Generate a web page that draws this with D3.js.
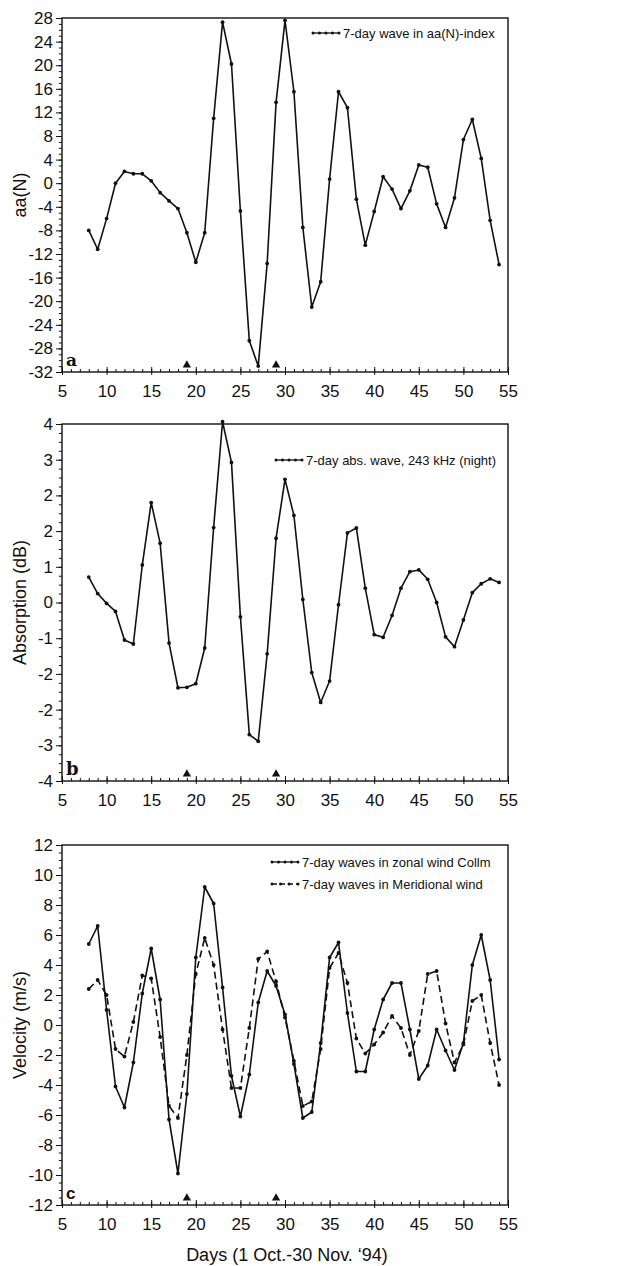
<!DOCTYPE html>
<html lang="en">
<head>
<meta charset="utf-8" />
<title>7-day waves</title>
<script src="https://d3js.org/d3.v7.min.js"></script>
<style>
  body { margin: 0; background: #fff; }
  svg text { font-family: "Liberation Sans", Arial, sans-serif; fill: #111; }
  .tick line { stroke: #111; }
</style>
</head>
<body>
<script>
// days of the record (1 Oct = day 1)
var days = [8, 9, 10, 11, 12, 13, 14, 15, 16, 17, 18, 19, 20, 21, 22, 23, 24, 25, 26, 27, 28, 29, 30, 31,
  32, 33, 34, 35, 36, 37, 38, 39, 40, 41, 42, 43, 44, 45, 46, 47, 48, 49, 50, 51, 52, 53, 54];

// panel a: 7-day wave in aa(N)-index
var aaWave = [-8, -11.2, -6, 0, 2, 1.6, 1.6, 0.4, -1.6, -3, -4.3, -8.4, -13.4, -8.4, 11, 27.3, 20.2, -4.7,
  -26.7, -31, -13.6, 13.7, 27.6, 15.5, -7.5, -21, -16.7, 0.7, 15.5, 12.8, -2.7, -10.5, -4.8, 1.1, -1, -4.3,
  -1.3, 3.1, 2.7, -3.5, -7.5, -2.5, 7.4, 10.8, 4.2, -6.3, -13.8];

// panel b: 7-day absorption wave, 243 kHz (night)
var absWave = [0.57, 0.2, -0.02, -0.2, -0.84, -0.93, 0.84, 2.24, 1.33, -0.91, -1.91, -1.9, -1.82, -1.02, 1.68,
  4.05, 3.14, -0.32, -2.96, -3.11, -1.15, 1.44, 2.76, 1.95, 0.07, -1.57, -2.24, -1.76, -0.05, 1.56, 1.67, 0.32,
  -0.72, -0.78, -0.29, 0.32, 0.69, 0.73, 0.52, 0.0, -0.77, -0.99, -0.39, 0.22, 0.42, 0.53, 0.45];

// panel c: zonal wind (solid) and meridional wind (dashed)
var zonalWave = [5.4, 6.6, 1.0, -4.1, -5.5, -2.5, 2.1, 5.1, 1.7, -6.3, -9.9, -4.6, 4.5, 9.2, 8.1, 2.5, -3.4,
  -6.1, -3.3, 1.5, 3.6, 2.6, 0.7, -2.6, -6.2, -5.8, -1.2, 4.5, 5.5, 0.8, -3.1, -3.1, -0.3, 1.7, 2.8, 2.8, -0.3,
  -3.6, -2.7, -0.3, -1.7, -3.0, -1.2, 4.0, 6.0, 3.0, -2.3];
var meridWave = [2.4, 3.0, 2.0, -1.6, -2.1, 0.2, 3.3, 3.1, -0.8, -5.4, -6.2, -2.0, 3.4, 5.8, 4.0, -0.3, -4.2,
  -4.2, -0.2, 4.4, 4.9, 2.9, 0.5, -2.4, -5.4, -5.1, -1.6, 3.8, 4.8, 2.8, -0.9, -1.9, -1.3, -0.5, 0.6, -0.2, -2.0,
  -0.4, 3.4, 3.6, 0.1, -2.5, -1.3, 1.6, 2.0, -1.2, -4.0];

// event markers (triangles on the axis)
var markerDays = [19, 29];

// axis ticks and labels
var xTicks = [5, 10, 15, 20, 25, 30, 35, 40, 45, 50, 55];
var aaTicks = [28, 24, 20, 16, 12, 8, 4, 0, -4, -8, -12, -16, -20, -24, -28, -32];
var aaTickLabels = ["28", "24", "20", "16", "12", "8", "4", "0", "-4", "-8", "-12", "-16", "-20", "-24", "-28", "-32"];
var absTicks = [4, 3.2, 2.4, 1.6, 0.8, 0, -0.8, -1.6, -2.4, -3.2, -4];
var absTickLabels = ["4", "3", "2", "2", "1", "0", "-1", "-2", "-2", "-3", "-4"];
var velTicks = [12, 10, 8, 6, 4, 2, 0, -2, -4, -6, -8, -10, -12];
var velTickLabels = ["12", "10", "8", "6", "4", "2", "0", "-2", "-4", "-6", "-8", "-10", "-12"];

var w = 618, h = 1266;
var left = 62, right = 508;

var svg = d3.select("body").append("svg")
  .attr("width", w)
  .attr("height", h);

var x = d3.scaleLinear().domain([5, 55]).range([left, right]);

var panels = [
  { top: 18, bottom: 372, domain: [-32, 28], ticks: aaTicks, labels: aaTickLabels, minor: 1,
    title: "aa(N)", letter: "a", letterFont: "'DejaVu Serif', serif", letterSize: 17,
    series: [{ values: aaWave, dash: null }],
    legend: [{ text: "7-day wave in aa(N)-index", dash: null, x: 313, y: 33 }] },
  { top: 424, bottom: 781, domain: [-4, 4], ticks: absTicks, labels: absTickLabels, minor: 0.2,
    title: "Absorption (dB)", letter: "b", letterFont: "'DejaVu Serif', serif", letterSize: 18,
    series: [{ values: absWave, dash: null }],
    legend: [{ text: "7-day abs. wave, 243 kHz (night)", dash: null, x: 276, y: 460 }] },
  { top: 845, bottom: 1205, domain: [-12, 12], ticks: velTicks, labels: velTickLabels, minor: 0.5,
    title: "Velocity (m/s)", letter: "c", letterFont: "'Liberation Sans', Arial, sans-serif", letterSize: 17,
    series: [{ values: zonalWave, dash: null }, { values: meridWave, dash: "7,4" }],
    legend: [{ text: "7-day waves in zonal wind Collm", dash: null, x: 272, y: 862 },
             { text: "7-day waves in Meridional wind", dash: "5,3", x: 272, y: 884 }] }
];

panels.forEach(function (p) {
  var y = d3.scaleLinear().domain(p.domain).range([p.bottom, p.top]);
  var g = svg.append("g");

  // minor y ticks
  var minorY = d3.range(p.domain[0], p.domain[1] + 1e-9, p.minor);
  g.append("g")
    .attr("transform", "translate(" + left + ",0)")
    .call(d3.axisLeft(y).tickValues(minorY).tickSize(3).tickFormat(""))
    .call(function (s) { s.select(".domain").remove(); });

  // major y ticks
  g.append("g")
    .attr("transform", "translate(" + left + ",0)")
    .call(d3.axisLeft(y).tickValues(p.ticks).tickSize(6).tickPadding(3)
      .tickFormat(function (d, i) { return p.labels[i]; }))
    .call(function (s) {
      s.select(".domain").remove();
      s.selectAll("text").attr("font-size", 17).attr("font-family", null);
    });

  // minor x ticks (inside)
  g.append("g")
    .attr("transform", "translate(0," + p.bottom + ")")
    .call(d3.axisBottom(x).tickValues(d3.range(5, 56, 1)).tickSize(-3).tickFormat(""))
    .call(function (s) { s.select(".domain").remove(); });

  // major x ticks and labels
  g.append("g")
    .attr("transform", "translate(0," + p.bottom + ")")
    .call(d3.axisBottom(x).tickValues(xTicks).tickSize(3).tickPadding(10)
      .tickFormat(function (d) { return String(d); }))
    .call(function (s) {
      s.select(".domain").remove();
      s.selectAll("text").attr("font-size", 17).attr("font-family", null);
      s.selectAll(".tick line").attr("y1", -5);
    });

  // frame
  g.append("rect")
    .attr("x", left).attr("y", p.top)
    .attr("width", right - left).attr("height", p.bottom - p.top)
    .attr("fill", "none").attr("stroke", "#111").attr("stroke-width", 1.4);

  // y title
  g.append("text")
    .attr("transform", "translate(26," + ((p.top + p.bottom) / 2) + ") rotate(-90)")
    .attr("text-anchor", "middle")
    .attr("font-size", 18)
    .text(p.title);

  // panel letter
  g.append("text")
    .attr("x", 66).attr("y", p.bottom - 6)
    .attr("font-size", p.letterSize)
    .attr("font-weight", "bold")
    .style("font-family", p.letterFont)
    .text(p.letter);

  // event triangles
  g.selectAll(".tri")
    .data(markerDays)
    .enter()
    .append("path")
    .attr("d", d3.symbol(d3.symbolTriangle).size(30))
    .attr("transform", function (d) { return "translate(" + x(d) + "," + (p.bottom - 7) + ")"; })
    .attr("fill", "#111");

  // series
  var line = d3.line()
    .x(function (d, i) { return x(days[i]); })
    .y(function (d) { return y(d); });

  p.series.forEach(function (s) {
    g.append("path")
      .datum(s.values)
      .attr("d", line)
      .attr("fill", "none")
      .attr("stroke", "#111")
      .attr("stroke-width", 1.6)
      .attr("stroke-linejoin", "round")
      .attr("stroke-dasharray", s.dash);

    g.selectAll(null)
      .data(s.values)
      .enter()
      .append("circle")
      .attr("cx", function (d, i) { return x(days[i]); })
      .attr("cy", function (d) { return y(d); })
      .attr("r", 1.9)
      .attr("fill", "#111");
  });

  // legend
  p.legend.forEach(function (l) {
    var lg = g.append("g").attr("transform", "translate(" + l.x + "," + l.y + ")");
    lg.append("line")
      .attr("x1", 0).attr("x2", 26).attr("y1", 0).attr("y2", 0)
      .attr("stroke", "#111").attr("stroke-width", 1.3)
      .attr("stroke-dasharray", l.dash);
    lg.selectAll("circle")
      .data(l.dash ? [0, 8.5, 17, 26] : [0, 6.5, 13, 19.5, 26])
      .enter()
      .append("circle")
      .attr("cx", function (d) { return d; })
      .attr("cy", 0)
      .attr("r", 1.5)
      .attr("fill", "#111");
    lg.append("text")
      .attr("x", 30).attr("y", 4.5)
      .attr("font-size", 13)
      .text(l.text);
  });
});

// x title
svg.append("text")
  .attr("x", (left + right) / 2 + 2)
  .attr("y", 1261)
  .attr("text-anchor", "middle")
  .attr("font-size", 18)
  .text("Days (1 Oct.-30 Nov. \u201894)");
</script>
</body>
</html>
